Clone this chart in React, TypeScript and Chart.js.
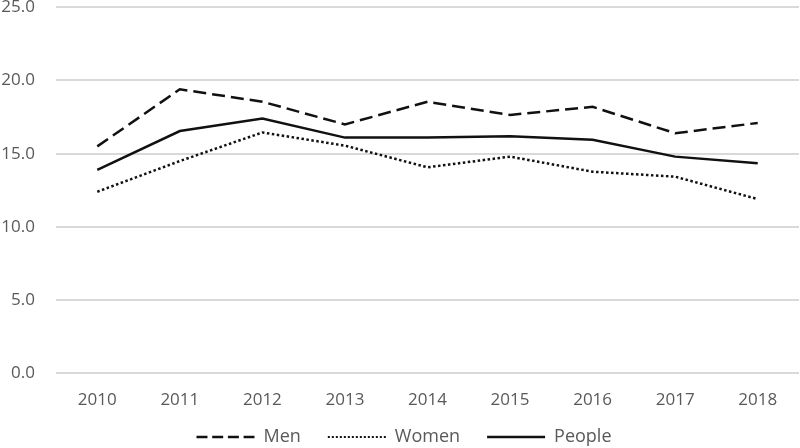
import React, { useEffect, useRef } from "react";
import { Chart, registerables } from "chart.js";

Chart.register(...registerables);

const years = ["2010", "2011", "2012", "2013", "2014", "2015", "2016", "2017", "2018"];
const men = [15.5, 19.4, 18.55, 17.0, 18.55, 17.65, 18.2, 16.4, 17.1];
const women = [12.4, 14.5, 16.45, 15.55, 14.07, 14.8, 13.77, 13.43, 11.9];
const people = [13.9, 16.55, 17.4, 16.1, 16.1, 16.2, 15.95, 14.8, 14.35];
const yMin = 0;
const yMax = 25;
const yStep = 5;

const FONT = "'Open Sans', 'Noto Sans', sans-serif";
const TEXT = "#595959";
const LINE = "#111111";

const legendShift = {
  id: "legendShift",
  afterLayout(chart: any) {
    const lg = chart.legend;
    if (!lg) return;
    lg.left += 4.5;
    lg.right += 4.5;
    lg.top -= 12.3;
  },
};

export default function App() {
  const ref = useRef<HTMLCanvasElement | null>(null);

  useEffect(() => {
    if (!ref.current) return;
    const chart = new Chart(ref.current, {
      type: "line",
      data: {
        labels: years,
        datasets: [
          {
            label: "Men",
            data: men,
            borderColor: LINE,
            backgroundColor: LINE,
            borderWidth: 2.5,
            borderDash: [13, 6],
            pointRadius: 0,
            tension: 0,
          },
          {
            label: "Women",
            data: women,
            borderColor: LINE,
            backgroundColor: LINE,
            borderWidth: 2.5,
            borderDash: [2.5, 2.5],
            pointRadius: 0,
            tension: 0,
          },
          {
            label: "People",
            data: people,
            borderColor: LINE,
            backgroundColor: LINE,
            borderWidth: 2.5,
            pointRadius: 0,
            tension: 0,
          },
        ],
      },
      plugins: [legendShift],
      options: {
        animation: false,
        responsive: true,
        maintainAspectRatio: false,
        layout: { padding: { top: 7.3, left: 0, right: 1, bottom: 0 } },
        plugins: {
          tooltip: { enabled: false },
          legend: {
            position: "bottom",
            maxHeight: 34.7,
            labels: {
              usePointStyle: true,
              pointStyle: "line",
              pointStyleWidth: 58,
              padding: 27,
              color: TEXT,
              font: { family: FONT, size: 18 },
              generateLabels: (c: any) => {
                const items = Chart.defaults.plugins.legend.labels.generateLabels(c);
                items.forEach((it: any) => {
                  if (it.text === "Men") it.lineDash = [11, 4.7];
                  if (it.text === "Women") {
                    it.lineDash = [2, 2];
                    it.lineWidth = 2;
                  }
                });
                return items;
              },
            },
          },
        },
        scales: {
          x: {
            offset: true,
            grid: { display: false, drawTicks: false },
            border: { display: false },
            ticks: {
              color: TEXT,
              padding: 16.5,
              font: { family: FONT, size: 17 },
              maxRotation: 0,
            },
            afterFit: (s: any) => {
              s.height = 40;
            },
          },
          y: {
            min: yMin,
            max: yMax,
            grid: { color: "#d9d9d9", lineWidth: 2, drawTicks: false },
            border: { display: false },
            ticks: {
              stepSize: yStep,
              color: TEXT,
              padding: 21,
              font: { family: FONT, size: 17, lineHeight: 0.8 },
              callback: (v: any) => Number(v).toFixed(1),
            },
            afterFit: (s: any) => {
              s.width = 56;
              s.paddingTop = 0;
              s.paddingBottom = 0;
            },
          },
        },
      },
    });
    return () => chart.destroy();
  }, []);

  return (
    <div style={{ position: "fixed", left: 0, top: 0, width: 800, height: 448, background: "#fff" }}>
      <canvas ref={ref} />
    </div>
  );
}
